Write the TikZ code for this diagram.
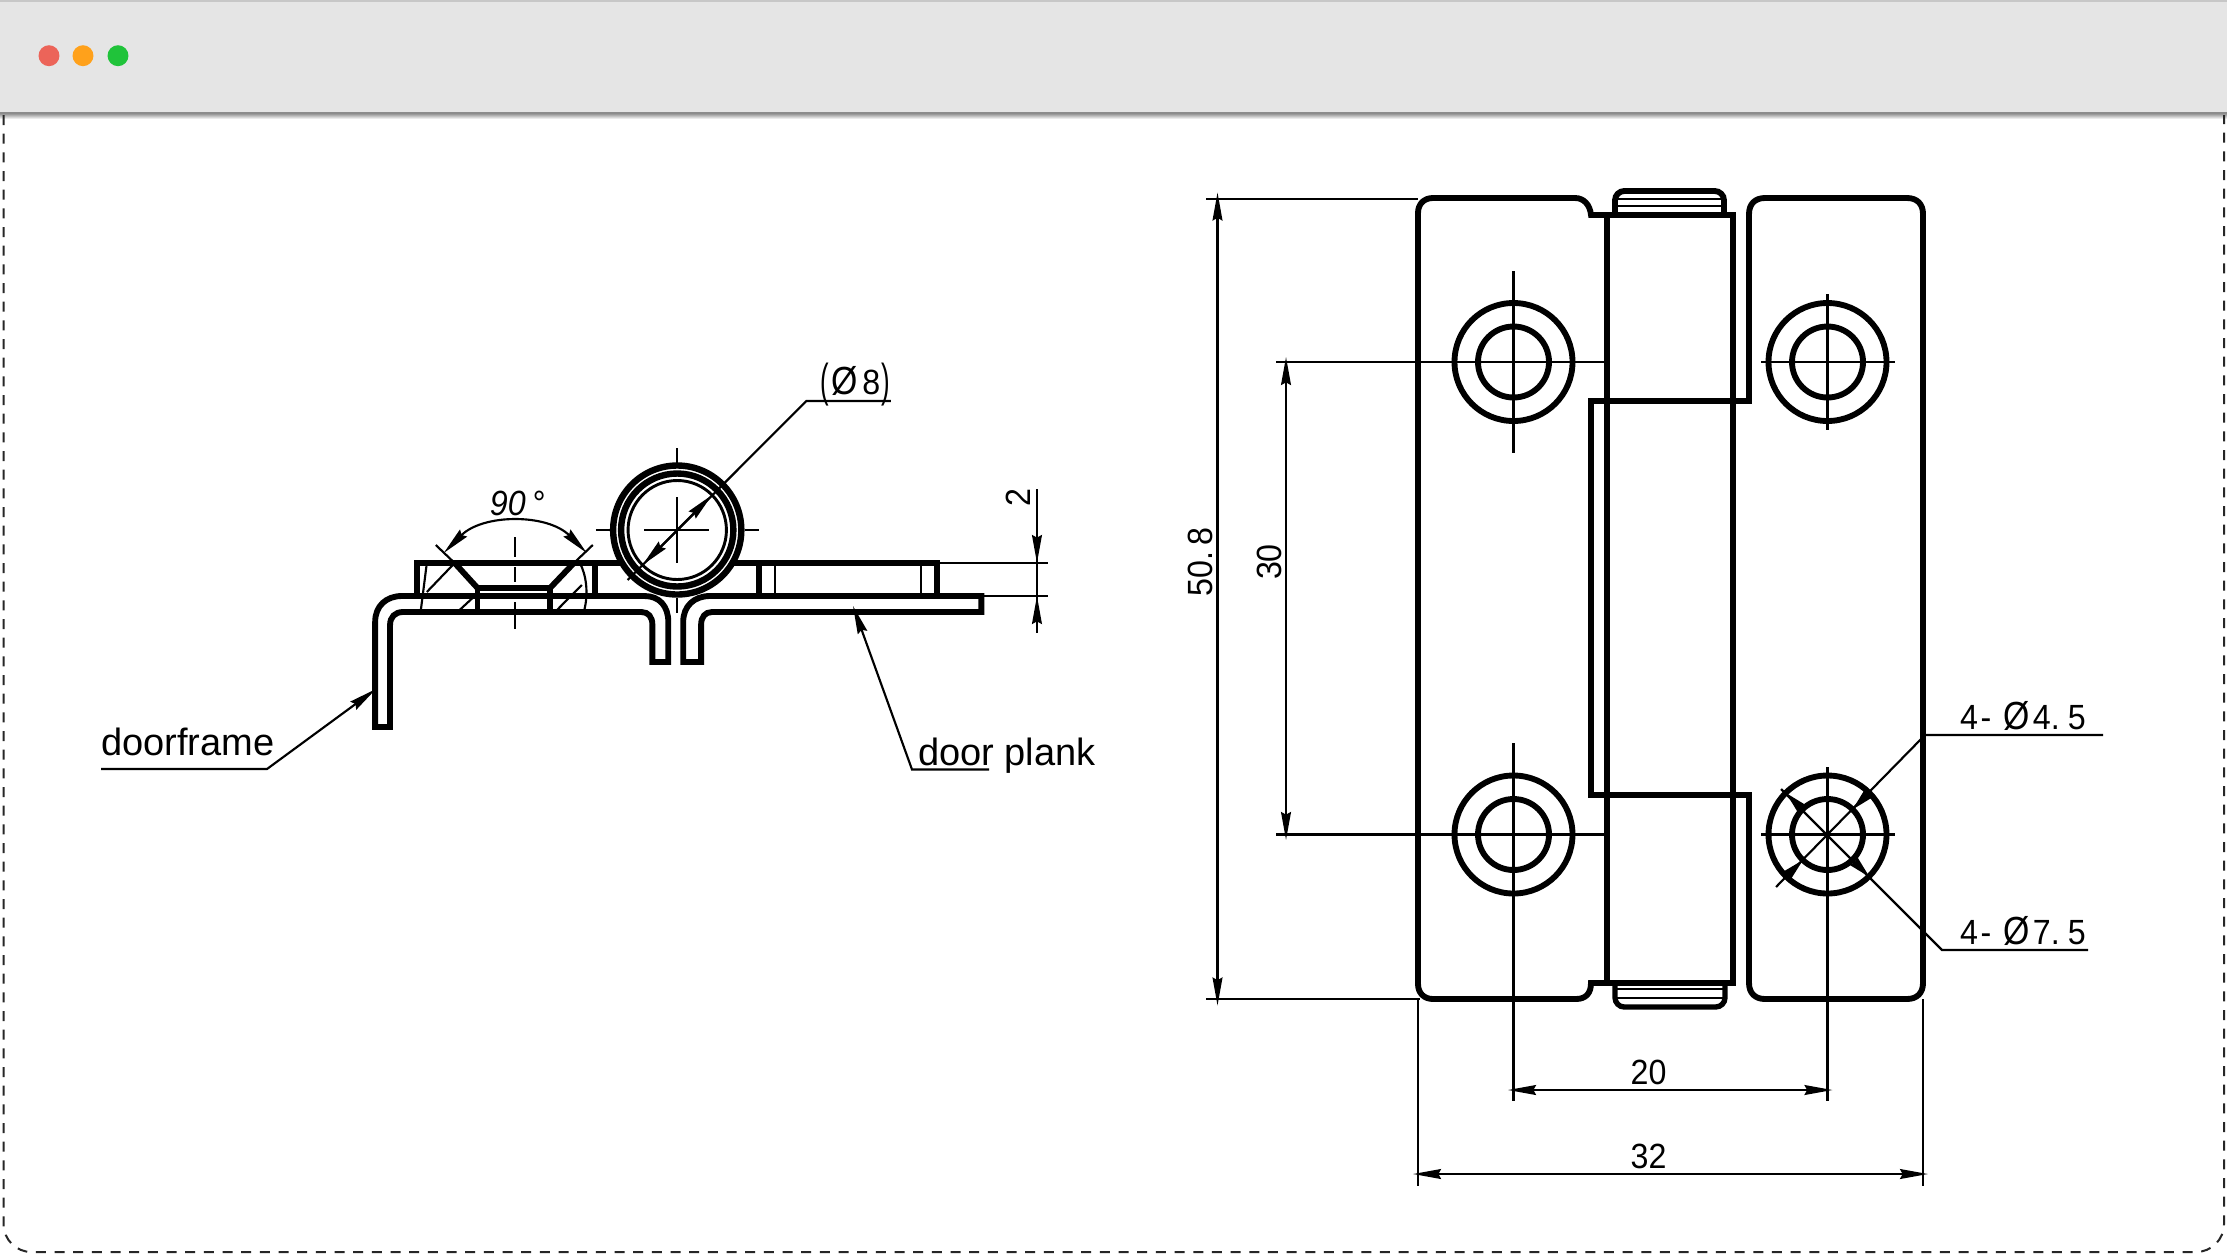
\documentclass[tikz,border=0pt]{standalone}
\usepackage{fontspec}
\usetikzlibrary{arrows.meta}
\setmainfont{Liberation Sans}
\newfontfamily\cadfont[FakeStretch=0.92]{Liberation Sans}
\newcommand{\lparen}{\raisebox{-2.2pt}{\scalebox{.8}[1.32]{(}}}
\newcommand{\rparen}{\raisebox{-2.2pt}{\scalebox{.8}[1.32]{)}}}
\newcommand{\dia}{\scalebox{1.05}[1.12]{Ø}}
\definecolor{barfill}{HTML}{E5E5E5}
\definecolor{dotred}{HTML}{EC6459}
\definecolor{dotorange}{HTML}{FFA11B}
\definecolor{dotgreen}{HTML}{20C33A}
\tikzset{
  x=0.75pt,y=-0.75pt,
  outline/.style={line width=4.4pt,line join=miter,line cap=butt,black},
  thinline/.style={line width=1.6pt,black},
  dimtip/.tip={Stealth[length=21pt,width=7.4pt,inset=2pt]},
  holetip/.tip={Stealth[length=17pt,width=8pt,inset=1.5pt]},
  cad/.style={font=\cadfont\fontsize{26.25}{30}\selectfont,inner sep=0pt,outer sep=0pt,anchor=base},
  label/.style={font=\fontsize{28.5}{32}\selectfont,inner sep=0pt,outer sep=0pt,anchor=base west},
  dot/.style={circle,inner sep=0pt,minimum size=15.7pt},
}
\begin{document}
\begin{tikzpicture}
\useasboundingbox (0,0) rectangle (2227,1254);
% ---- window
\fill[white] (0,0) rectangle (2227,1254);
\shade[top color=black!55,bottom color=white] (0,112) rectangle (2227,119);
\fill[barfill] (0,0) rectangle (2227,112);
\draw[line width=1.2pt,black!22] (0,1) -- (2227,1);
\draw[line width=1.5pt,black!45] (0,112.5) -- (2227,112.5);
\node[dot,fill=dotred] (close) at (49,55.7) {};
\node[dot,fill=dotorange] (minimize) at (83,55.7) {};
\node[dot,fill=dotgreen] (zoom) at (118,55.7) {};
\draw[line width=1.5pt,black!85,dash pattern=on 7.5pt off 6.5pt,rounded corners=21pt]
  (3.5,115) -- (3.5,1252) -- (2224,1252) -- (2224,115);

\begin{scope}[xscale=0.9937,xshift=1.9pt]
% ---- side view: base sheets
\draw[outline] (375,727) -- (375,622) .. controls (375,606) and (386,596) .. (402,596)
  -- (646,596) .. controls (661,596) and (670,606) .. (670,622) -- (670,662) -- (654,662)
  -- (654,625) .. controls (654,617) and (650,612) .. (643,612)
  -- (403,612) .. controls (395,612) and (390,617) .. (390,625) -- (390,727) -- cycle;
\draw[outline] (985,596) -- (712,596) .. controls (696,596) and (685,606) .. (685,622)
  -- (685,662) -- (703,662) -- (703,625) .. controls (703,617) and (707,612) .. (714,612)
  -- (985,612) -- cycle;
% ---- side view: upper leaf
\draw[outline] (417,596) -- (417,563) -- (940,563) -- (940,596);
\draw[outline] (596.5,563) -- (596.5,596);
\draw[outline] (761.5,563) -- (761.5,596);
\draw[outline] (455,563) -- (478,588) -- (551,588) -- (575,563);
\draw[outline] (478,588) -- (478,612);
\draw[outline] (551,588) -- (551,612);
\draw[thinline] (777,563) -- (777,596);
\draw[thinline] (924.5,563) -- (924.5,596);
\draw[thinline] (427,563) -- (421,610);
\draw[thinline] (427,592) -- (455,563);
\draw[thinline] (460,610) -- (473,598);
\draw[thinline] (558,610) -- (583,585);
\draw[thinline] (581,563) .. controls (587,574) and (590,592) .. (585.5,610);
% countersink centre line
\draw[thinline] (516,537) -- (516,557);
\draw[thinline] (516,567) -- (516,582);
\draw[thinline] (516,602) -- (516,629);
% ---- side view: knuckle
\draw[outline,line width=4.8pt,fill=white] (679,530) circle [radius=64.5];
\draw[outline,line width=4.8pt] (679,530) circle [radius=56.5];
\draw[line width=2.2pt] (679,530) circle [radius=49.5];
\draw[thinline] (679,448) -- (679,465);
\draw[thinline] (679,497) -- (679,563);
\draw[thinline] (679,598) -- (679,613);
\draw[thinline] (597,530) -- (612,530);
\draw[thinline] (646,530) -- (711,530);
\draw[thinline] (747,530) -- (761,530);
% ---- side view: dimensions
\draw[thinline] (629,580) -- (809,401) -- (894,401);
\draw[thinline,{dimtip}-{dimtip}] (644,565) -- (714,495);
\node[cad] (d8) at (858.5,394) {\lparen\kern1.5pt\dia\kern3.5pt 8\kern1pt\rparen};
\draw[thinline] (436,545) -- (455,563);
\draw[thinline] (594,545) -- (575,563);
\draw[thinline,{dimtip}-{dimtip}] (444,553) .. controls (483.5,513.5) and (548.5,513.5) .. (588,553);
\node[cad,font=\cadfont\itshape\fontsize{26.25}{30}\selectfont] (d90) at (518,515) {90\,°};
\draw[thinline] (940,563) -- (1052,563);
\draw[thinline] (985,596) -- (1052,596);
\draw[thinline] (1041,489) -- (1041,633);
\draw[thinline,-{dimtip}] (1041,520) -- (1041,563);
\draw[thinline,-{dimtip}] (1041,620) -- (1041,596);
\node[cad,rotate=90] (d2) at (1034,498) {2};
\end{scope}
% ---- side view: labels
\node[label] (doorframe) at (101,755) {doorframe};
\coordinate (fa) at (267,769);
\coordinate (ft) at (376,689);
\draw[thinline,-{dimtip}] (101,769) -- (fa) -- (ft);
\node[label] (doorplank) at (918,765) {door plank};
\coordinate (pa) at (912,769.5);
\coordinate (pt) at (853,606);
\draw[thinline,-{dimtip}] (989,769.5) -- (pa) -- (pt);

% ---- front view: pins
\draw[outline,rounded corners=7pt] (1615,215) -- (1615,191) -- (1724,191) -- (1724,215);
\draw[line width=2.2pt] (1617,199) -- (1722,199);
\draw[line width=1.7pt] (1617,206) -- (1722,206);
\draw[outline,line width=4pt,rounded corners=7pt] (1615,983) -- (1615,1007) -- (1725,1007) -- (1725,983);
\draw[line width=1.7pt] (1617,989) -- (1723,989);
\draw[line width=2.2pt] (1617,998) -- (1723,998);
% ---- front view: leaves
\draw[outline] (1591,215) .. controls (1590,205) and (1584,198) .. (1575,198)
  -- (1433,198) .. controls (1424,198) and (1418,204) .. (1418,213)
  -- (1418,984) .. controls (1418,993) and (1424,999) .. (1433,999)
  -- (1576,999) .. controls (1586,999) and (1591,993) .. (1591,983)
  -- (1733,983) -- (1733,215) -- cycle;
\draw[outline] (1607,215) -- (1607,983);
\draw[outline] (1591,401) -- (1749,401) -- (1749,214)
  .. controls (1749,204) and (1755,198) .. (1765,198)
  -- (1907,198) .. controls (1917,198) and (1923,204) .. (1923,214)
  -- (1923,983) .. controls (1923,993) and (1917,999) .. (1907,999)
  -- (1765,999) .. controls (1755,999) and (1749,993) .. (1749,983)
  -- (1749,795) -- (1591,795) -- cycle;
% ---- front view: holes
\foreach \cx/\cy in {1513.5/362,1827.5/362,1513.5/834.5,1827.5/834.5}{
  \draw[outline] (\cx,\cy) circle [radius=59];
  \draw[outline] (\cx,\cy) circle [radius=35.5];
}
% ---- front view: centre lines
\draw[thinline] (1276,362) -- (1607,362);
\draw[thinline] (1276,834.5) -- (1607,834.5);
\draw[thinline] (1513.5,271) -- (1513.5,453);
\draw[thinline] (1513.5,743) -- (1513.5,1101);
\draw[thinline] (1827.5,294) -- (1827.5,430);
\draw[thinline] (1827.5,767) -- (1827.5,1101);
\draw[thinline] (1761,362) -- (1895,362);
\draw[thinline] (1761,834.5) -- (1895,834.5);
% ---- front view: dimensions
\draw[thinline] (1206,199) -- (1418,199);
\draw[thinline] (1206,999) -- (1420,999);
\draw[thinline,{dimtip}-{dimtip}] (1217.5,192.5) -- (1217.5,1005.5);
\node[cad,rotate=90] (d508) at (1212,562) {50.\,8};
\draw[thinline,{dimtip}-{dimtip}] (1286,357) -- (1286,840);
\node[cad,rotate=90] (d30) at (1281,562) {30};
\draw[thinline] (1418,999) -- (1418,1186);
\draw[thinline] (1923,999) -- (1923,1186);
\draw[thinline,{dimtip}-{dimtip}] (1508,1090) -- (1832.5,1090);
\node[cad] (d20) at (1648.5,1084) {20};
\draw[thinline,{dimtip}-{dimtip}] (1413,1174) -- (1928,1174);
\node[cad] (d32) at (1648.5,1168) {32};
% ---- front view: hole callouts
\draw[thinline] (1776,887) -- (1925,735) -- (2103,735);
\draw[thinline,-{holetip}] (1869,793) -- (1852.5,809.5);
\draw[thinline,-{holetip}] (1786,876.5) -- (1803,860);
\node[cad,anchor=base west] (d45) at (1960,729) {4\kern2pt-\kern9pt\dia\kern2.5pt 4.\kern6pt 5};
\draw[thinline] (1781,789) -- (1942,950) -- (2088,950);
\draw[thinline,-{holetip}] (1803,810) -- (1786,793);
\draw[thinline,-{holetip}] (1852.5,860) -- (1869.5,877);
\node[cad,anchor=base west] (d75) at (1960,944) {4\kern2pt-\kern9pt\dia\kern2.5pt 7.\kern6pt 5};
\end{tikzpicture}
\end{document}
